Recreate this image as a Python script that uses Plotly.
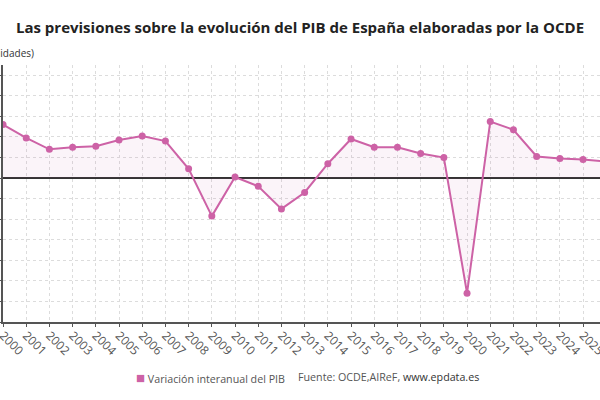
import plotly.graph_objects as go

# Variación interanual del PIB de España (%), previsiones OCDE
years = list(range(2000, 2027))
pib = [5.2, 3.9, 2.8, 3.0, 3.1, 3.7, 4.1, 3.6, 0.9, -3.7,
       0.1, -0.8, -3.0, -1.4, 1.4, 3.8, 3.0, 3.0, 2.4, 2.0,
       -11.2, 5.5, 4.7, 2.1, 1.9, 1.8, 1.6]
tick_years = list(range(2000, 2026))

color = "#cd62a6"
font = "Open Sans"

fig = go.Figure()

fig.add_trace(go.Scatter(
    x=years, y=pib, mode="lines+markers",
    name="Variación interanual del PIB",
    line=dict(color=color, width=2),
    marker=dict(color=color, size=7),
    fill="tozeroy", fillcolor="rgba(205,98,166,0.07)",
    showlegend=False))

fig.update_layout(
    width=600, height=400,
    margin=dict(l=3, r=0, t=65, b=78),
    plot_bgcolor="white", paper_bgcolor="white",
    font=dict(family=font, color="#555", size=11),
    title=dict(text="<b>Las previsiones sobre la evolución del PIB de España elaboradas por la OCDE</b>",
               x=0.5, xanchor="center", y=0.93, yanchor="middle",
               font=dict(size=15, color="#222", family=font)),
    annotations=[
        # leyenda hecha a mano (cuadrado + texto)
        dict(text=f"<span style='color:{color};font-size:15px'>■</span> Variación interanual del PIB",
             xref="paper", yref="paper", x=0.219, y=-0.214,
             xanchor="left", yanchor="middle", showarrow=False,
             font=dict(size=10.7, color="#555")),
        dict(text="Fuente: OCDE,AIReF, <span style='color:#333'>www.epdata.es</span>",
             xref="paper", yref="paper", x=0.49, y=-0.214,
             xanchor="left", yanchor="middle", showarrow=False,
             font=dict(size=10.7, color="#555")),
        dict(text="(Variación interanual, en unidades)",
             xref="paper", yref="paper", x=0.055, y=1.047,
             xanchor="right", yanchor="middle", showarrow=False,
             font=dict(size=10, color="#333")),
    ])

fig.update_xaxes(
    range=[2000, 2025.73], tickvals=tick_years, ticktext=[str(y) for y in tick_years],
    tickangle=45, tickfont=dict(size=12, color="#555"),
    ticklabeloverflow="allow", ticklabelstandoff=-3,
    showgrid=True, gridcolor="#dcdcdc", griddash="dot",
    showline=True, linecolor="#555", linewidth=1.5,
    ticks="outside", ticklen=3, tickcolor="#555", automargin=False)

fig.update_yaxes(
    range=[-14, 11], dtick=2, tick0=0,
    showgrid=True, gridcolor="#dcdcdc", griddash="dot",
    zeroline=True, zerolinecolor="#333", zerolinewidth=1.5,
    showline=True, linecolor="#555", linewidth=1.5,
    ticks="outside", ticklen=4, tickcolor="#555", automargin=False)

# quitar el margen por defecto del body para que el gráfico empiece en (0, 0)
fig.write_html("out.html", config={"displayModeBar": False},
               post_script="document.body.style.margin='0';")
